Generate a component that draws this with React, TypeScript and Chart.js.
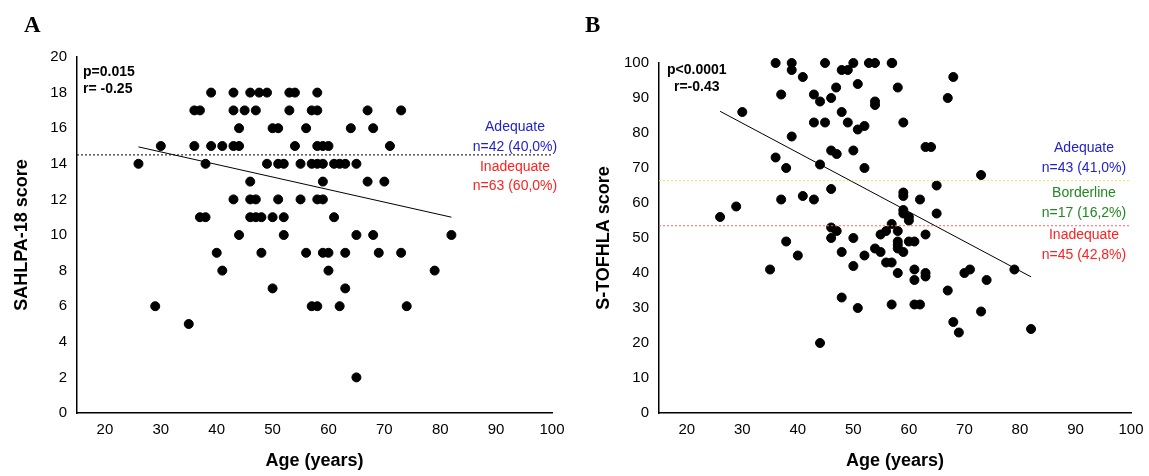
import { useEffect, useRef } from "react";
import Chart from "chart.js/auto";

// panel A: SAHLPA-18 score vs age
const ageA = [39, 43, 46, 47.6, 49, 53, 54, 58,
  36, 37, 43, 45, 47, 53, 57, 58, 67, 73,
  44, 50, 51, 56, 64, 68,
  30, 36, 39, 41, 43, 44, 54, 58, 59, 60, 71,
  26, 38, 49, 51, 52, 55, 57, 58, 59, 61, 62, 63, 65,
  46, 59, 67, 70,
  43, 46, 47, 51, 55, 58, 59,
  37, 38, 46, 47, 48, 50, 52, 61,
  44, 52, 65, 68, 82,
  40, 48, 56, 59, 60, 63, 69, 73,
  41, 60, 79,
  50, 63,
  29, 57, 58, 62, 74,
  35,
  65];
const scoreA = [18, 18, 18, 18, 18, 18, 18, 18,
  17, 17, 17, 17, 17, 17, 17, 17, 17, 17,
  16, 16, 16, 16, 16, 16,
  15, 15, 15, 15, 15, 15, 15, 15, 15, 15, 15,
  14, 14, 14, 14, 14, 14, 14, 14, 14, 14, 14, 14, 14,
  13, 13, 13, 13,
  12, 12, 12, 12, 12, 12, 12,
  11, 11, 11, 11, 11, 11, 11, 11,
  10, 10, 10, 10, 10,
  9, 9, 9, 9, 9, 9, 9, 9,
  8, 8, 8,
  7, 7,
  6, 6, 6, 6, 6,
  5,
  2];
const fitA = [{ x: 26, y: 14.95 }, { x: 82, y: 11.0 }];
const cutA = 14.5;

// panel B: S-TOFHLA score vs age
const ageB = [36, 38.9, 38.9, 40.9, 44.9, 47.9, 49, 50, 52.8, 53.9, 56.9, 50.8, 46.9, 37, 42.9, 44, 46,
  53.9, 53.9, 30, 47.9, 42.9, 44.9, 49, 50.8, 52, 38.9, 46, 47, 50, 36, 44, 37.9, 52, 46, 40.9,
  42.9, 37, 28.9, 26, 46, 47, 46, 50, 37.9, 40, 47.9, 52, 53.9, 54.9, 54.9, 55.9, 56.9, 35, 50,
  55.9, 56.9, 47.9, 50.8, 56.9, 44,
  57, 68, 58, 67, 59, 63, 64, 73, 65, 59, 59, 62, 65, 59, 59, 60, 60, 58, 63, 60, 61,
  58, 58, 58, 59, 58, 61, 61, 63, 63, 70, 71, 74, 79, 67, 61, 62, 73, 68, 69, 82];
const scoreB = [100, 100, 98, 96, 100, 98, 98, 100, 100, 100, 100, 94, 93, 91, 91, 89, 90,
  89, 88, 86, 86, 83, 83, 83, 81, 82, 79, 75, 74, 75, 73, 71, 70, 70, 64, 62,
  61, 61, 59, 56, 53, 52, 50, 50, 49, 45, 46, 45, 47, 46, 51, 52, 54, 41, 42,
  43, 43, 33, 30, 31, 20,
  100, 96, 93, 90, 83, 76, 76, 68, 65, 63, 62, 61, 57, 58, 57, 56, 55, 52, 51, 49, 49,
  49, 48, 47, 46, 40, 41, 38, 40, 39, 40, 41, 38, 41, 35, 31, 31, 29, 26, 23, 24];
const fitB = [{ x: 26, y: 86.2 }, { x: 82, y: 38.9 }];
const cutAdequate = 66.4;
const cutBorder = 53.5;

type Label = { text: string; x: number; y: number; color: string; bold?: boolean; align?: CanvasTextAlign };

const labelsA: Label[] = [
  { text: "p=0.015", x: 83, y: 72, color: "#000", bold: true, align: "left" },
  { text: "r= -0.25", x: 83, y: 89, color: "#000", bold: true, align: "left" },
  { text: "Adequate", x: 515, y: 127, color: "#2222cc" },
  { text: "n=42 (40,0%)", x: 515, y: 147, color: "#2222cc" },
  { text: "Inadequate", x: 515, y: 167, color: "#ff2020" },
  { text: "n=63 (60,0%)", x: 515, y: 186, color: "#ff2020" },
];
const labelsB: Label[] = [
  { text: "p<0.0001", x: 667, y: 70, color: "#000", bold: true, align: "left" },
  { text: "r=-0.43", x: 674, y: 87, color: "#000", bold: true, align: "left" },
  { text: "Adequate", x: 1084, y: 148, color: "#2222cc" },
  { text: "n=43 (41,0%)", x: 1084, y: 168, color: "#2222cc" },
  { text: "Borderline", x: 1084, y: 193, color: "#228822" },
  { text: "n=17 (16,2%)", x: 1084, y: 213, color: "#228822" },
  { text: "Inadequate", x: 1084, y: 235, color: "#ff2020" },
  { text: "n=45 (42,8%)", x: 1084, y: 255, color: "#ff2020" },
];

const FONT = "Liberation Sans, Arial, sans-serif";

function Panel(props: {
  left: number; width: number; padLeft: number; plotLeft: number; plotTop: number; plotRight: number;
  ages: number[]; scores: number[]; fit: { x: number; y: number }[];
  cuts: { y: number; color: string }[]; yMax: number; yStep: number; yTitle: string;
  letter: string; letterX: number; labels: Label[];
}) {
  const canvasRef = useRef<HTMLCanvasElement | null>(null);

  useEffect(() => {
    const canvas = canvasRef.current;
    if (!canvas) return;
    const pts = props.ages.map((a, i) => ({ x: a, y: props.scores[i] }));
    const lines = props.cuts.map((c) => ({
      type: "line" as const,
      data: [{ x: 15, y: c.y }, { x: 100, y: c.y }],
      borderColor: c.color,
      borderWidth: 1,
      borderDash: [2, 2],
      pointRadius: 0,
    }));
    const textPlugin = {
      id: "texts",
      afterDraw(chart: any) {
        const ctx = chart.ctx;
        ctx.save();
        ctx.textBaseline = "middle";
        for (const l of props.labels) {
          ctx.font = `${l.bold ? "bold " : ""}14px ${FONT}`;
          ctx.fillStyle = l.color;
          ctx.textAlign = l.align ?? "center";
          ctx.fillText(l.text, l.x - props.left, l.y);
        }
        ctx.font = "bold 23px Liberation Serif, Times New Roman, serif";
        ctx.fillStyle = "#000";
        ctx.textAlign = "left";
        ctx.fillText(props.letter, props.letterX, 26);
        ctx.restore();
      },
    };
    const chart = new Chart(canvas, {
      type: "scatter",
      data: {
        datasets: [
          ...lines,
          {
            type: "line",
            data: props.fit,
            borderColor: "#000",
            borderWidth: 1,
            pointRadius: 0,
          },
          {
            data: pts,
            backgroundColor: "#000",
            borderColor: "#000",
            pointRadius: 4.5,
            clip: false,
          },
        ] as any,
      },
      options: {
        animation: false,
        responsive: false,
        layout: { padding: { top: props.plotTop, right: props.width - props.plotRight, left: props.padLeft, bottom: 0 } },
        plugins: { legend: { display: false }, tooltip: { enabled: false } },
        scales: {
          x: {
            type: "linear",
            min: 15,
            max: 100,
            afterBuildTicks: (s: any) => { s.ticks = [20, 30, 40, 50, 60, 70, 80, 90, 100].map((v) => ({ value: v })); },
            afterFit: (s: any) => { s.height = 476 - 413; },
            grid: { display: false, drawTicks: true, tickLength: 4, tickColor: "#000" },
            border: { color: "#000", width: 1.5 },
            ticks: { color: "#000", font: { family: FONT, size: 15 }, padding: 4 },
            title: { display: true, text: "Age (years)", color: "#000", font: { family: FONT, size: 18, weight: "bold" }, padding: { top: 6 } },
          },
          y: {
            min: 0,
            max: props.yMax,
            ticks: { stepSize: props.yStep, color: "#000", font: { family: FONT, size: 15 }, padding: 4 },
            afterFit: (s: any) => { s.width = props.plotLeft - props.padLeft; },
            grid: { display: false, drawTicks: true, tickLength: 6, tickColor: "#000" },
            border: { color: "#000", width: 1.5 },
            title: { display: true, text: props.yTitle, color: "#000", font: { family: FONT, size: 18, weight: "bold" } },
          },
        },
      },
      plugins: [textPlugin],
    });
    return () => chart.destroy();
  }, []);

  return (
    <canvas
      ref={canvasRef}
      width={props.width}
      height={476}
      style={{ position: "absolute", left: props.left, top: 0, width: props.width, height: 476 }}
    />
  );
}

export default function App() {
  return (
    <div style={{ position: "fixed", left: 0, top: 0, width: 1149, height: 476, background: "#fff" }}>
      <Panel left={0} width={575} padLeft={7} plotLeft={77} plotTop={57} plotRight={552}
        ages={ageA} scores={scoreA} fit={fitA} cuts={[{ y: cutA, color: "#000" }]}
        yMax={20} yStep={2} yTitle="SAHLPA-18 score" letter="A" letterX={24} labels={labelsA} />
      <Panel left={575} width={574} padLeft={14} plotLeft={84} plotTop={63} plotRight={1131 - 575}
        ages={ageB} scores={scoreB} fit={fitB}
        cuts={[{ y: cutAdequate, color: "#e8e860" }, { y: cutBorder, color: "#ff6060" }]}
        yMax={100} yStep={10} yTitle="S-TOFHLA score" letter="B" letterX={10} labels={labelsB} />
    </div>
  );
}
